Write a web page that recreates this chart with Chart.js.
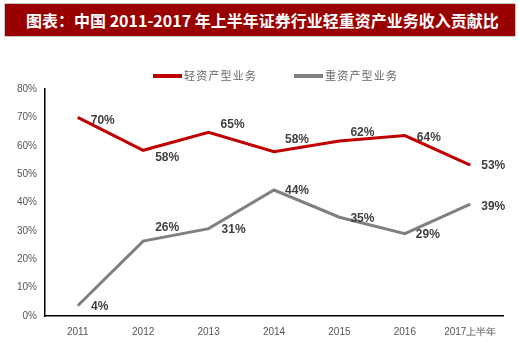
<!DOCTYPE html>
<html>
<head>
<meta charset="utf-8">
<script src="https://cdn.jsdelivr.net/npm/chart.js@4/dist/chart.umd.min.js"></script>
<style>
  body { margin: 0; background: #fff; }
  #wrap { position: relative; width: 520px; height: 352px; overflow: hidden; }
  #title {
    position: absolute; left: 4px; top: 3px; width: 512px; height: 34px;
    background: #990000; color: #fff; box-sizing: border-box;
    font: bold 16px "Noto Sans CJK SC", sans-serif; line-height: 32px;
    padding-left: 21px; white-space: nowrap; border: 1px solid #c9c9c9;
  }
  canvas { position: absolute; left: 0; top: 0; }
</style>
</head>
<body>
<div id="wrap">
  <div id="title">图表：中国 2011-2017 年上半年证券行业轻重资产业务收入贡献比</div>
  <canvas id="c" width="520" height="352"></canvas>
</div>
<script>
// 数据
const years = ["2011", "2012", "2013", "2014", "2015", "2016", "2017上半年"];
const lightAsset = [70, 58.4, 64.7, 57.9, 61.7, 63.6, 53.2];   // 轻资产型业务
const heavyAsset = [3.6, 26.4, 30.8, 44.4, 34.8, 29.0, 39.4];   // 重资产型业务
const yTicks = [0, 10, 20, 30, 40, 50, 60, 70, 80];

// 数据标签偏移 (像素)
const lightOffsets = [[25, 3], [24, 7], [24, -8], [23, -12], [23, -8], [24, 2], [23, 1]];
const heavyOffsets = [[22, 1], [24, -13], [25, 1], [23, 1], [23, 1], [23, 1], [23, 2]];

const labelPlugin = {
  id: "pctLabels",
  afterDatasetsDraw(chart) {
    const ctx = chart.ctx;
    ctx.save();
    ctx.font = "bold 12px Arial, 'Liberation Sans', sans-serif";
    ctx.fillStyle = "#3f3f3f";
    ctx.textAlign = "center";
    ctx.textBaseline = "middle";
    const offs = [lightOffsets, heavyOffsets];
    chart.data.datasets.forEach((ds, di) => {
      chart.getDatasetMeta(di).data.forEach((pt, i) => {
        const o = offs[di][i];
        ctx.fillText(Math.round(ds.data[i]) + "%", pt.x + o[0], pt.y + o[1]);
      });
    });
    ctx.restore();
  }
};

// 图例：线段 + 文字
const legendPlugin = {
  id: "lineLegend",
  afterDraw(chart) {
    const ctx = chart.ctx;
    const xs = [153, 294];
    const y = 76;
    ctx.save();
    ctx.font = "11px 'Noto Sans CJK SC', sans-serif";
    ctx.letterSpacing = "1.2px";
    ctx.textBaseline = "middle";
    ctx.fillStyle = "#666";
    chart.data.datasets.forEach((ds, i) => {
      ctx.fillStyle = ds.borderColor;
      ctx.fillRect(xs[i], y - 2, 29, 4);
      ctx.fillStyle = "#666";
      ctx.fillText(ds.label, xs[i] + 31, y);
    });
    ctx.restore();
  }
};

new Chart(document.getElementById("c"), {
  type: "line",
  data: {
    labels: years,
    datasets: [{
      label: "轻资产型业务",
      data: lightAsset,
      borderColor: "#c00000",
      backgroundColor: "#c00000",
      borderWidth: 3,
      pointRadius: 0,
      tension: 0
    }, {
      label: "重资产型业务",
      data: heavyAsset,
      borderColor: "#808080",
      backgroundColor: "#808080",
      borderWidth: 3,
      pointRadius: 0,
      tension: 0
    }]
  },
  options: {
    responsive: false,
    animation: false,
    layout: { padding: { top: 89, right: 17, left: 0, bottom: 0 } },
    plugins: {
      legend: { display: false },
      tooltip: { enabled: false }
    },
    scales: {
      x: {
        offset: true,
        grid: { display: false, drawTicks: false },
        border: { color: "#000", width: 1.5 },
        ticks: { color: "#555", font: { family: "Arial, 'Liberation Sans', sans-serif", size: 10 }, padding: 10, maxRotation: 0 },
        afterFit(s) { s.height = 36; }
      },
      y: {
        min: 0, max: 80,
        afterBuildTicks(s) { s.ticks = yTicks.map(v => ({ value: v })); },
        grid: { display: false, drawOnChartArea: false, drawTicks: true, tickLength: 4, color: "#000" },
        border: { color: "#000", width: 1.5 },
        ticks: {
          color: "#555", padding: 4,
          font: { family: "Arial, 'Liberation Sans', sans-serif", size: 10 },
          callback: v => v + "%"
        },
        afterFit(s) { s.width = 45; }
      }
    }
  },
  plugins: [labelPlugin, legendPlugin]
});
</script>
</body>
</html>
